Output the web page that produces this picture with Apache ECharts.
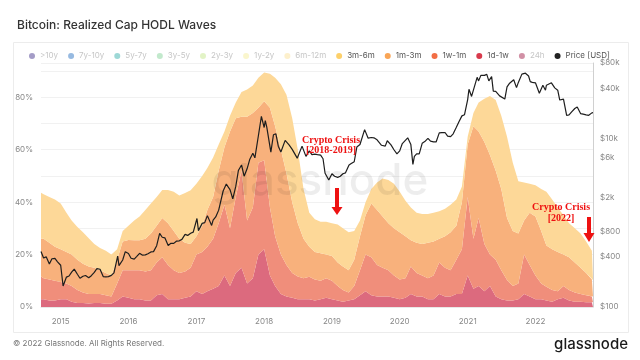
<!DOCTYPE html>
<html><head><meta charset="utf-8">
<script src="https://cdn.jsdelivr.net/npm/echarts@6/dist/echarts.min.js"></script>
<style>html,body{margin:0;padding:0;background:#fff}#c{width:640px;height:360px}</style>
</head><body><div id="c"></div>
<script>
// ---- data ----
const dates = ['2014-09-17','2014-10-01','2014-11-01','2014-12-01',
'2015-01-01','2015-02-01','2015-03-01','2015-04-01','2015-05-01','2015-06-01','2015-07-01','2015-08-01','2015-09-01','2015-10-01','2015-11-01','2015-12-01',
'2016-01-01','2016-02-01','2016-03-01','2016-04-01','2016-05-01','2016-06-01','2016-07-01','2016-08-01','2016-09-01','2016-10-01','2016-11-01','2016-12-01',
'2017-01-01','2017-02-01','2017-03-01','2017-04-01','2017-05-01','2017-06-01','2017-07-01','2017-08-01','2017-09-01','2017-10-01','2017-11-01','2017-12-01',
'2018-01-01','2018-02-01','2018-03-01','2018-04-01','2018-05-01','2018-06-01','2018-07-01','2018-08-01','2018-09-01','2018-10-01','2018-11-01','2018-12-01',
'2019-01-01','2019-02-01','2019-03-01','2019-04-01','2019-05-01','2019-06-01','2019-07-01','2019-08-01','2019-09-01','2019-10-01','2019-11-01','2019-12-01',
'2020-01-01','2020-02-01','2020-03-01','2020-04-01','2020-05-01','2020-06-01','2020-07-01','2020-08-01','2020-09-01','2020-10-01','2020-11-01','2020-12-01',
'2021-01-01','2021-02-01','2021-03-01','2021-04-01','2021-05-01','2021-06-01','2021-07-01','2021-08-01','2021-09-01','2021-10-01','2021-11-01','2021-12-01',
'2022-01-01','2022-02-01','2022-03-01','2022-04-01','2022-05-01','2022-06-01','2022-07-01','2022-08-01','2022-09-01','2022-10-01','2022-11-01','2022-11-07'];

const wave1d1w = [3,3,2.5,2.5,
3,3,2,1.5,1.5,1.3,1.5,1.5,1.2,1.2,2.5,4,
3.5,3,3,2.5,2.5,4.5,5,3,3,3,3.5,4,
6,5,6,7,8,12,8,13,15,9,11,20,
22,12,8,5,4,3.5,3,3,3,2.5,3,3.5,
3,2.5,2,2.5,3,4.5,6,4.5,4,4,4,3.5,
3,3.5,5,4,4,3,3,5,4,4,5,5,
12,7,8,6,8,4,3,2.5,2.5,3,5,4,
3,3,2.5,2,3,3.5,2.5,2,2,1.8,1.8,1.8];

const wave1w1m = [8.6,8,8,7.5,
6.5,6,6,5,4,3.7,3.5,3.5,3.3,2.8,6.5,10,
10.5,11,11,11,11.5,12.5,14,13,11,10,10,11,
14,16,17,19,24,27,22,29,37,24,27,35,
34,26,19,15,12,9.5,8.6,8,8.5,8,7,7.5,
7,5.5,4.5,3,5,9.5,14,14.5,12,11,10,8.5,
7.5,7.5,10.5,9,8,8,9,12,11,10,13,17,
30,19,26,18,12,14,11,7.8,5.5,6,15,12,
9,6,5.2,4.5,3,4.5,4,3.5,3,2.7,2.2,2.2];

const wave1m3m = [14.4,15,14,13,
12.5,12,12,11.5,11,10.5,10,9,8.5,8,9,11,
11.6,11.5,11.5,12.5,14,14,15,16,15,13,11,9,
7,10,14,16,20,22,37,30,20.6,39.6,36,21,
22.5,38,42,40,35,27,20.4,15,11.5,10.5,10.5,9,
9.5,9,9,8.5,10,13,15,20.5,21,19.5,18,18,
18,16,10,11.5,12,13.5,13,9,12,14.5,13,18,
20,43,33,39,38,34,31,23.7,21,19,13,20,
22.5,20,15.8,15.5,15,12,12.5,11.5,10,8.5,6.5,6.3];

const wave3m6m = [17.6,17,17.5,18,
17.5,15,13,12.5,12,10.7,9,8.5,8.5,8,4,4,
5.4,7.5,9,11,11.5,11,10.6,12.6,15,16.5,19,20.5,
20,19,16,15,10,6,6,6,9.4,10.4,10.5,11.5,
11,13,18.5,25,30,32,28,19,13,12.5,12,12.5,
12.5,14.5,14.5,14.5,11,6,5,5.5,10.5,14.5,16.5,17,
15.5,13.5,12.5,11.5,11.5,11,11,10.5,10.5,10.5,10,6,
3,5,11,16.5,22.5,27,28,31,26,20,14.5,11,
12,16,20.5,19,17,15,13,13,13,12,11,10.7];

const wave24h = [], wave6m12m = [], wave1y2y = [], wave2y3y = [], wave3y5y = [], wave5y7y = [], wave7y10y = [], wave10y = [];

const priceDates = ['2014-09-17','2014-10-01','2014-10-15','2014-11-01','2014-11-15','2014-12-01','2014-12-15','2015-01-01','2015-01-14','2015-02-01','2015-02-15','2015-03-01','2015-03-15','2015-04-01','2015-04-15','2015-05-01','2015-05-15','2015-06-01','2015-06-15','2015-07-01','2015-07-15','2015-08-01','2015-08-18','2015-09-01','2015-09-15','2015-10-01','2015-10-15','2015-11-04','2015-11-11','2015-12-01','2015-12-15',
'2016-01-01','2016-01-15','2016-02-01','2016-02-15','2016-03-01','2016-03-15','2016-04-01','2016-04-15','2016-05-01','2016-05-15','2016-06-01','2016-06-17','2016-07-01','2016-07-15','2016-08-02','2016-08-15','2016-09-01','2016-09-15','2016-10-01','2016-10-15','2016-11-01','2016-11-15','2016-12-01','2016-12-15',
'2017-01-04','2017-01-12','2017-02-01','2017-02-15','2017-03-01','2017-03-24','2017-04-01','2017-04-15','2017-05-01','2017-05-25','2017-06-11','2017-06-20','2017-07-01','2017-07-16','2017-08-01','2017-08-15','2017-09-01','2017-09-15','2017-10-01','2017-10-15','2017-11-01','2017-11-12','2017-12-01','2017-12-17',
'2018-01-01','2018-01-07','2018-01-15','2018-02-06','2018-02-20','2018-03-05','2018-03-18','2018-04-01','2018-04-24','2018-05-15','2018-06-01','2018-06-28','2018-07-24','2018-08-14','2018-09-01','2018-09-15','2018-10-01','2018-10-15','2018-11-01','2018-11-14','2018-11-25','2018-12-15',
'2019-01-01','2019-01-15','2019-02-01','2019-02-15','2019-03-01','2019-03-15','2019-04-03','2019-04-15','2019-05-01','2019-05-15','2019-06-01','2019-06-26','2019-07-15','2019-08-01','2019-08-15','2019-09-01','2019-09-25','2019-10-15','2019-10-26','2019-11-15','2019-12-01','2019-12-17',
'2020-01-01','2020-01-15','2020-02-13','2020-03-01','2020-03-12','2020-03-20','2020-04-01','2020-04-15','2020-05-01','2020-05-15','2020-06-01','2020-06-15','2020-07-01','2020-07-15','2020-08-01','2020-08-15','2020-09-01','2020-09-15','2020-10-01','2020-10-15','2020-11-01','2020-11-15','2020-12-01','2020-12-15',
'2021-01-01','2021-01-08','2021-01-22','2021-02-01','2021-02-21','2021-03-01','2021-03-13','2021-04-01','2021-04-14','2021-04-25','2021-05-10','2021-05-19','2021-06-01','2021-06-22','2021-07-01','2021-07-20','2021-08-01','2021-08-15','2021-09-06','2021-09-21','2021-10-01','2021-10-20','2021-11-08','2021-11-25','2021-12-04','2021-12-15',
'2022-01-01','2022-01-22','2022-02-10','2022-02-24','2022-03-01','2022-03-28','2022-04-15','2022-05-01','2022-05-12','2022-06-01','2022-06-18','2022-07-01','2022-07-15','2022-08-01','2022-08-14','2022-09-01','2022-09-15','2022-10-01','2022-10-15','2022-11-01','2022-11-07'];
const priceUsd = [457,383,395,325,375,378,345,314,178,227,234,260,282,245,220,232,237,223,236,258,286,281,230,228,230,238,255,403,310,362,455,
434,380,372,400,435,415,417,430,452,456,536,750,676,665,540,570,572,607,613,638,731,711,753,778,
1130,810,989,1008,1222,935,1079,1180,1421,2400,2900,2700,2492,1930,2718,4200,4892,3600,4403,5680,6737,5950,10975,18500,
13657,16500,13800,6950,11200,11500,8200,6973,9600,8500,7500,5900,8200,6200,7200,6500,6600,6500,6400,5800,3900,3236,
3843,3600,3488,3600,3855,3950,4900,5100,5350,8000,8574,12900,10200,10400,10300,9757,8400,8200,9500,8500,7425,6640,
7200,8800,10300,8562,4970,6200,6640,6640,8860,9300,10167,9400,9228,9200,11800,11900,11924,10800,10620,11500,13780,16000,18800,19400,
29374,39000,32000,33500,54000,49000,57000,57000,58500,49000,55000,37000,36700,32500,33500,29800,41500,46000,50500,40700,47000,59000,60500,56000,48000,47000,
46500,35000,43500,38000,43500,46500,40500,38000,29000,29800,19000,19300,21000,23000,24000,20000,19700,19300,19100,20400,20500];

const legendNames = ['>10y','7y-10y','5y-7y','3y-5y','2y-3y','1y-2y','6m-12m','3m-6m','1m-3m','1w-1m','1d-1w','24h','Price [USD]'];
const activeNames = ['3m-6m','1m-3m','1w-1m','1d-1w','Price [USD]'];
const pctTicks = [0,20,40,60,80];
const priceTicks = [100,400,800,2000,6000,10000,40000,80000];
const yearTicks = ['2015-01-01','2016-01-01','2017-01-01','2018-01-01','2019-01-01','2020-01-01','2021-01-01','2022-01-01'];

// ---- styling ----
const dotColor = {'>10y':'#4a3a8f','7y-10y':'#2f76c4','5y-7y':'#3bb2ae','3y-5y':'#86d49a','2y-3y':'#c5e88e','1y-2y':'#f5ee9c','6m-12m':'#fbe29a',
  '3m-6m':'#fdd06a','1m-3m':'#f9a556','1w-1m':'#f26e45','1d-1w':'#d83a4c','24h':'#a3224b','Price [USD]':'#222'};
const areaColor = {'3m-6m':'#fdd898','1m-3m':'#f8b17c','1w-1m':'#f08e7b','1d-1w':'#dc6a7e'};
const stackOrder = [['24h',wave24h],['1d-1w',wave1d1w],['1w-1m',wave1w1m],['1m-3m',wave1m3m],['3m-6m',wave3m6m],['6m-12m',wave6m12m],
  ['1y-2y',wave1y2y],['2y-3y',wave2y3y],['3y-5y',wave3y5y],['5y-7y',wave5y7y],['7y-10y',wave7y10y],['>10y',wave10y]];

const ts = (d) => Date.parse(d + 'T00:00:00Z');
const series = stackOrder.map(([name, vals]) => {
  const s = {
    name, type:'line', symbol:'none', smooth:false,
    data: vals.map((v,i)=>[dates[i], v]),
    itemStyle:{color: dotColor[name]},
    lineStyle:{width:0},
    areaStyle:{color: areaColor[name] || dotColor[name], opacity:1},
    emphasis:{disabled:true}, z:2
  };
  if (vals.length) s.stack = 'waves';
  return s;
});
series.push({
  name:'Price [USD]', type:'line', yAxisIndex:1, symbol:'none',
  data: priceUsd.map((v,i)=>[priceDates[i], v]),
  itemStyle:{color:'#222'}, lineStyle:{color:'#1e1e1e', width:1.2},
  emphasis:{disabled:true}, z:5
});

const chart = echarts.init(document.getElementById('c'), null, {renderer:'canvas'});
const F = 'Inter, Roboto, "Noto Sans", sans-serif';
const xMin = dates[0], xMax = dates[dates.length-1];
chart.setOption({
  animation:false,
  backgroundColor:'#fff',
  textStyle:{fontFamily:F},
  title:{text:'Bitcoin: Realized Cap HODL Waves', left:12, top:14,
    textStyle:{fontSize:12, fontWeight:500, color:'#333', fontFamily:F}},
  legend:{
    left:24, top:47, icon:'circle', itemWidth:6, itemHeight:6, itemGap:10, selectedMode:false, width:612,
    textStyle:{fontSize:8, color:'#555', fontFamily:F},
    data: legendNames.map((n) => activeNames.includes(n)
      ? {name:n}
      : {name:n, textStyle:{color:'#c6c6c6'}, itemStyle:{opacity:0.5}})
  },
  grid:{left:41, right:47, top:63, bottom:53},
  xAxis:[{
    type:'time', min:xMin, max:xMax,
    axisLine:{show:true, lineStyle:{color:'#e8e8e8'}},
    axisTick:{show:false}, splitLine:{show:false}, axisLabel:{show:false}
  },{
    type:'value', position:'bottom', min:ts(xMin), max:ts(xMax),
    axisLine:{show:false}, axisTick:{show:false}, splitLine:{show:false},
    axisLabel:{customValues: yearTicks.map(ts), formatter:(v)=>String(new Date(v).getUTCFullYear()),
      fontSize:8, color:'#888', margin:11}
  }],
  yAxis:[{
    type:'value', min:0, max:93.1, interval:10, position:'left',
    axisLine:{show:false}, axisTick:{show:false},
    axisLabel:{customValues:pctTicks, formatter:'{value}%', fontSize:8, color:'#888', margin:8},
    splitLine:{show:true, lineStyle:{color:'#f1f1f1', width:1}}
  },{
    type:'log', logBase:10, min:100, max:80000, position:'right',
    axisLine:{show:true, lineStyle:{color:'#d0d0d0'}}, axisTick:{show:false},
    axisLabel:{customValues:priceTicks, fontSize:8, color:'#888', margin:7,
      formatter:(v)=> v>=1000 ? '$'+Math.round(v/1000)+'k' : '$'+Math.round(v)},
    splitLine:{show:false}
  }],
  series,
  graphic:[
    {type:'rect', z:-10, shape:{x:13.5, y:42.5, width:615, height:290}, style:{fill:'none', stroke:'#ececec', lineWidth:1}},
    {type:'text', z:100, left:'center', top:160, style:{text:'glassnode', font:'500 44px Inter, sans-serif', fill:'rgba(0,0,0,0.07)'}},
    {type:'text', z:100, style:{text:'Crypto Crisis', x:331, y:140, align:'center', verticalAlign:'middle', font:'bold 10px "Liberation Serif", serif', fill:'#ee1111'}},
    {type:'text', z:100, style:{text:'[2018-2019]', x:331, y:150.5, align:'center', verticalAlign:'middle', font:'bold 10px "Liberation Serif", serif', fill:'#ee1111'}},
    {type:'polygon', z:100, shape:{points:[[335,188],[339,188],[339,207],[342.5,207],[337,215],[331.5,207],[335,207]]}, style:{fill:'#ee1111'}},
    {type:'text', z:100, style:{text:'Crypto Crisis', x:561, y:207, align:'center', verticalAlign:'middle', font:'bold 10px "Liberation Serif", serif', fill:'#ee1111'}},
    {type:'text', z:100, style:{text:'[2022]', x:561, y:218, align:'center', verticalAlign:'middle', font:'bold 10px "Liberation Serif", serif', fill:'#ee1111'}},
    {type:'polygon', z:100, shape:{points:[[587,217],[591,217],[591,233],[594.5,233],[589,242],[583.5,233],[587,233]]}, style:{fill:'#ee1111'}},
    {type:'text', z:100, style:{text:'© 2022 Glassnode. All Rights Reserved.', x:13, y:344, verticalAlign:'middle', font:'8px Inter, sans-serif', fill:'#777'}},
    {type:'text', z:100, style:{text:'glassnode', x:628, y:344, align:'right', verticalAlign:'middle', font:'500 15px Inter, sans-serif', fill:'#1a1a1a'}}
  ]
});
</script></body></html>
